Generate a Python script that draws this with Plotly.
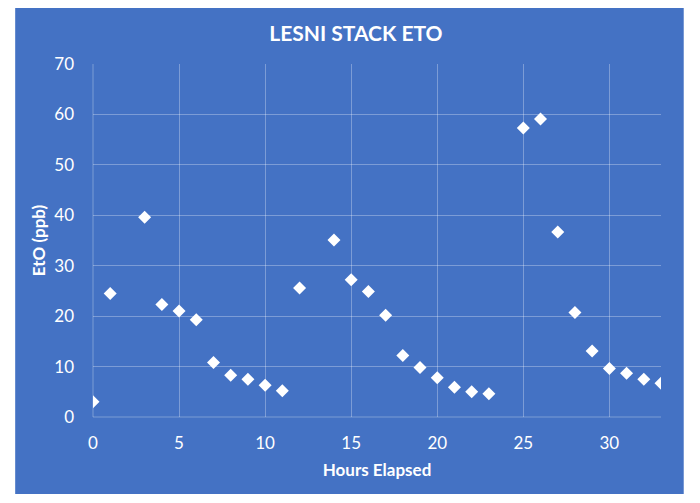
import plotly.graph_objects as go

# Data
hours = [0, 1, 3, 4, 5, 6, 7, 8, 9, 10, 11, 12, 14, 15, 16, 17, 18, 19, 20, 21, 22, 23,
         25, 26, 27, 28, 29, 30, 31, 32, 33]
eto_ppb = [3.0, 24.5, 39.6, 22.3, 21.0, 19.3, 10.8, 8.3, 7.5, 6.3, 5.2, 25.6, 35.1, 27.2, 24.9,
           20.2, 12.2, 9.8, 7.8, 5.9, 5.0, 4.6, 57.3, 59.1, 36.7, 20.7, 13.1, 9.6, 8.7, 7.5, 6.7]

x_ticks = [0, 5, 10, 15, 20, 25, 30]
y_ticks = [0, 10, 20, 30, 40, 50, 60, 70]

BLUE = '#4472C4'
GRID = 'rgba(255,255,255,0.3)'
FONT = 'Lato, Open Sans, sans-serif'

fig = go.Figure(go.Scatter(
    x=hours, y=eto_ppb, mode='markers',
    marker=dict(symbol='diamond', size=10, color='white'),
))

# blue chart panel behind the plot area
fig.add_shape(type='rect', xref='paper', yref='paper',
              x0=-0.137, x1=1.040, y0=-0.218, y1=1.159,
              fillcolor=BLUE, line=dict(color=BLUE, width=0), layer='below')

fig.update_layout(
    width=700, height=503,
    margin=dict(l=85, r=47, t=56, b=94),
    paper_bgcolor='white',
    plot_bgcolor='rgba(0,0,0,0)',
    showlegend=False,
    font=dict(family=FONT, color='white', size=17),
    title=dict(text='<b>LESNI STACK ETO</b>', x=0.497, xanchor='center',
               y=0.95, yanchor='middle', font=dict(size=21, color='white', family=FONT)),
)
fig.update_xaxes(
    range=[0, 33], tickvals=x_ticks, showgrid=True, gridcolor=GRID, gridwidth=1,
    zeroline=False, showline=False, ticklabelstandoff=14,
    title=dict(text='<b>Hours Elapsed</b>', standoff=12, font=dict(size=17)),
)
fig.update_yaxes(
    range=[0, 70], tickvals=y_ticks, showgrid=True, gridcolor=GRID, gridwidth=1,
    zeroline=False, showline=False, ticklabelstandoff=18,
    title=dict(text='<b>EtO (ppb)</b>', standoff=4, font=dict(size=17)),
)
# left/bottom axis lines drawn with grid colour
fig.add_shape(type='line', xref='paper', yref='paper', x0=0, x1=0, y0=0, y1=1,
              line=dict(color=GRID, width=1), layer='below')
fig.add_shape(type='line', xref='paper', yref='paper', x0=0, x1=1, y0=0, y1=0,
              line=dict(color=GRID, width=1), layer='below')

fig.write_html('out.html')
